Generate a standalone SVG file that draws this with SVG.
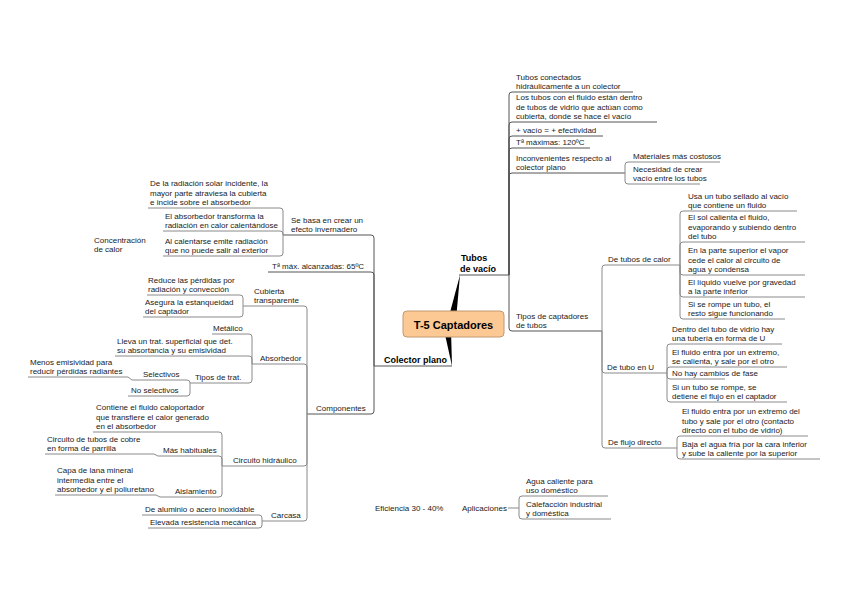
<svg xmlns="http://www.w3.org/2000/svg" width="848" height="599" viewBox="0 0 848 599">
<style>
text{font-family:"Liberation Sans",Arial,sans-serif;font-size:8px;fill:#1a1a1a}
.b{font-weight:bold;font-size:9px;fill:#000}
.c{font-weight:bold;font-size:11px;fill:#000}
.ln{fill:none;stroke:#8a8a8a;stroke-width:1}
.mn{fill:none;stroke:#555;stroke-width:1}
</style>
<rect width="848" height="599" fill="#fff"/>
<g id="connectors">
<polygon points="448,320 456,320 460,275" fill="#000"/>
<polygon points="444,330 451,330 452,366" fill="#000"/>
<path class="mn" d="M459,275 H509 M452,366 H374"/>
<g class="mn">
<path d="M509,275 V95 Q509,92 512,92 H633"/>
<path d="M509,275 V125 Q509,122 512,122 H657"/>
<path d="M509,275 V139 Q509,136 512,136 H603"/>
<path d="M509,275 V151 Q509,148 512,148 H590"/>
<path d="M509,275 V176 Q509,173 512,173 H625"/>
<path d="M509,275 V328 Q509,331 512,331 H602"/>
<path d="M374,366 V238 Q374,235 371,235 H283"/>
<path d="M374,366 V275 Q374,272 371,272 H268"/>
<path d="M374,366 V411 Q374,414 371,414 H307"/>
</g>
<g class="ln">
<path d="M625,173 V165 Q625,162 628,162 H720"/>
<path d="M625,173 V181 Q625,184 628,184 H700"/>
<path d="M602,331 V268 Q602,265 605,265 H680"/>
<path d="M602,331 V370 Q602,373 605,373 H667"/>
<path d="M602,331 V445 Q602,448 605,448 H677"/>
<path d="M680,265 V214 Q680,211 683,211 H797"/>
<path d="M680,265 V245 Q680,242 683,242 H805"/>
<path d="M680,265 V272 Q680,275 683,275 H805"/>
<path d="M680,265 V294 Q680,297 683,297 H805"/>
<path d="M680,265 V316 Q680,319 683,319 H785"/>
<path d="M667,373 V347 Q667,344 670,344 H782"/>
<path d="M667,373 V370 Q667,367 670,367 H787"/>
<path d="M667,373 V376 Q667,379 670,379 H725"/>
<path d="M667,373 V399 Q667,402 670,402 H787"/>
<path d="M677,448 V439 Q677,436 680,436 H808"/>
<path d="M677,448 V456 Q677,459 680,459 H820"/>
<path d="M508,508 H519"/>
<path d="M519,508 V499 Q519,496 522,496 H608"/>
<path d="M519,508 V516 Q519,519 522,519 H611"/>
<path d="M283,235 V211 Q283,208 280,208 H148"/>
<path d="M283,235 V234 Q283,231 280,231 H163"/>
<path d="M283,235 V253 Q283,256 280,256 H163"/>
<path d="M307,414 V309 Q307,306 304,306 H243"/>
<path d="M307,414 V367 Q307,364 304,364 H252"/>
<path d="M307,414 V463 Q307,466 304,466 H222"/>
<path d="M307,414 V518 Q307,521 304,521 H262"/>
<path d="M243,306 V298 Q243,295 240,295 H147"/>
<path d="M243,306 V314 Q243,317 240,317 H143"/>
<path d="M252,364 V337 Q252,334 249,334 H212"/>
<path d="M252,364 V359 Q252,356 249,356 H115"/>
<path d="M252,364 V380 Q252,383 249,383 H190"/>
<path d="M190,383 Q190,380 187,380 H132"/>
<path d="M190,383 V393 Q190,396 187,396 H128"/>
<path d="M132,380 L128,377 H28"/>
<path d="M222,466 V435 Q222,432 219,432 H93"/>
<path d="M222,466 V459 Q222,456 219,456 H158"/>
<path d="M222,466 V494 Q222,497 219,497 H160"/>
<path d="M158,456 L154,454 H45"/>
<path d="M160,497 L156,495 H55"/>
<path d="M262,521 V518 Q262,515 259,515 H142"/>
<path d="M262,521 V525 Q262,528 259,528 H148"/>
</g>
</g>
<g id="central">
<rect x="403" y="311" width="101" height="26" rx="4" fill="#fcc894" stroke="#c09870" stroke-width="1"/>
<text class="c" x="453.5" y="328.5" text-anchor="middle">T-5 Captadores</text>
</g>
<g id="tubos-vacio"><text class="b" x="461" y="261">Tubos</text><text class="b" x="460" y="272">de vacío</text></g>
<g id="colector-plano"><text class="b" x="384" y="363">Colector plano</text></g>
<g id="tubos-conectados"><text x="516" y="79.5">Tubos conectados</text><text x="516" y="89">hidráulicamente a un colector</text></g>
<g id="los-tubos"><text x="516" y="100">Los tubos con el fluido están dentro</text><text x="516" y="109.5">de tubos de vidrio  que actúan como</text><text x="516" y="119">cubierta, donde se hace el  vacío</text></g>
<g id="mas-vacio"><text x="516" y="133">+ vacío =  + efectividad</text></g>
<g id="t-maximas"><text x="516" y="145">Tª máximas: 120ºC</text></g>
<g id="inconvenientes"><text x="516" y="160.5">Inconvenientes respecto al</text><text x="516" y="170">colector plano</text></g>
<g id="materiales"><text x="633" y="159">Materiales más costosos</text></g>
<g id="necesidad"><text x="633" y="171.5">Necesidad de crear</text><text x="633" y="181">vacío entre los tubos</text></g>
<g id="tipos-captadores"><text x="516" y="318.5">Tipos de captadores</text><text x="516" y="328">de tubos</text></g>
<g id="tubos-calor"><text x="608" y="262">De tubos de calor</text></g>
<g id="usa-tubo"><text x="688" y="198.5">Usa un tubo sellado al vacío</text><text x="688" y="208">que contiene un fluido</text></g>
<g id="sol-calienta"><text x="688" y="220">El sol calienta el fluido,</text><text x="688" y="229.5">evaporando y subiendo dentro</text><text x="688" y="239">del tubo</text></g>
<g id="parte-superior"><text x="688" y="253">En la parte superior el vapor</text><text x="688" y="262.5">cede el calor al circuito de</text><text x="688" y="272">agua y condensa</text></g>
<g id="liquido-vuelve"><text x="688" y="284.5">El líquido vuelve por gravedad</text><text x="688" y="294">a la parte inferior</text></g>
<g id="rompe-tubo-calor"><text x="688" y="306.5">Si se rompe un tubo, el</text><text x="688" y="316">resto sigue funcionando</text></g>
<g id="tubo-u"><text x="607" y="370">De tubo en U</text></g>
<g id="dentro-tubo"><text x="672" y="331.5">Dentro del tubo de vidrio hay</text><text x="672" y="341">una tubería en forma de U</text></g>
<g id="fluido-entra-u"><text x="672" y="354.5">El fluido entra por un extremo,</text><text x="672" y="364">se calienta, y sale por el otro</text></g>
<g id="no-cambios"><text x="672" y="376">No hay cambios de fase</text></g>
<g id="rompe-tubo-u"><text x="672" y="389.5">Si un tubo se rompe, se</text><text x="672" y="399">detiene el flujo en el captador</text></g>
<g id="flujo-directo"><text x="608" y="445">De flujo directo</text></g>
<g id="fluido-entra-directo"><text x="682" y="414">El fluido entra por un extremo del</text><text x="682" y="423.5">tubo y sale por el otro (contacto</text><text x="682" y="433">directo con el tubo de vidrio)</text></g>
<g id="baja-agua"><text x="682" y="446.5">Baja el agua fría por la cara inferior</text><text x="682" y="456">y sube la caliente por la superior</text></g>
<g id="eficiencia"><text x="375" y="511">Eficiencia 30 - 40%</text></g>
<g id="aplicaciones"><text x="462" y="511">Aplicaciones</text></g>
<g id="agua-caliente"><text x="526" y="483.5">Agua caliente para</text><text x="526" y="493">uso doméstico</text></g>
<g id="calefaccion"><text x="526" y="506.5">Calefacción industrial</text><text x="526" y="516">y doméstica</text></g>
<g id="se-basa"><text x="291" y="222.5">Se basa en crear un</text><text x="291" y="232">efecto invernadero</text></g>
<g id="t-max-alcanzadas"><text x="272" y="269">Tª máx. alcanzadas: 65ºC</text></g>
<g id="componentes"><text x="316" y="411">Componentes</text></g>
<g id="radiacion-solar"><text x="150" y="186">De la radiación solar incidente, la</text><text x="150" y="195.5">mayor parte atraviesa la cubierta</text><text x="150" y="205">e incide sobre el absorbedor</text></g>
<g id="absorbedor-transforma"><text x="165" y="218.5">El absorbedor transforma la</text><text x="165" y="228">radiación en calor calentándose</text></g>
<g id="al-calentarse"><text x="165" y="243.5">Al calentarse emite radiación</text><text x="165" y="253">que no puede salir al exterior</text></g>
<g id="concentracion"><text x="94" y="242.5">Concentración</text><text x="94" y="252">de calor</text></g>
<g id="cubierta"><text x="254" y="293.5">Cubierta</text><text x="254" y="303">transparente</text></g>
<g id="reduce"><text x="148" y="282.5">Reduce las pérdidas por</text><text x="148" y="292">radiación y convección</text></g>
<g id="asegura"><text x="145" y="304.5">Asegura la estanqueidad</text><text x="145" y="314">del captador</text></g>
<g id="absorbedor"><text x="260" y="361">Absorbedor</text></g>
<g id="metalico"><text x="213" y="331">Metálico</text></g>
<g id="lleva"><text x="117" y="343.5">Lleva un trat. superficial que det.</text><text x="117" y="353">su absortancia y su emisividad</text></g>
<g id="tipos-trat"><text x="195" y="380">Tipos de trat.</text></g>
<g id="selectivos"><text x="143" y="377">Selectivos</text></g>
<g id="menos-emisividad"><text x="30" y="364.5">Menos emisividad para</text><text x="30" y="374">reducir pérdidas radiantes</text></g>
<g id="no-selectivos"><text x="131" y="393">No selectivos</text></g>
<g id="circuito-hidraulico"><text x="233" y="463">Circuito hidráulico</text></g>
<g id="contiene"><text x="96" y="410">Contiene el fluido caloportador</text><text x="96" y="419.5">que transfiere el calor generado</text><text x="96" y="429">en el absorbedor</text></g>
<g id="mas-habituales"><text x="163" y="453">Más habituales</text></g>
<g id="circuito-tubos"><text x="47" y="441.5">Circuito de tubos de cobre</text><text x="47" y="451">en forma de parrilla</text></g>
<g id="aislamiento"><text x="175" y="494">Aislamiento</text></g>
<g id="capa-lana"><text x="57" y="473">Capa de lana mineral</text><text x="57" y="482.5">intermedia entre el</text><text x="57" y="492">absorbedor y el poliuretano</text></g>
<g id="carcasa"><text x="271" y="518">Carcasa</text></g>
<g id="aluminio"><text x="145" y="512">De aluminio o acero inoxidable</text></g>
<g id="elevada"><text x="150" y="525">Elevada  resistencia mecánica</text></g>
</svg>
